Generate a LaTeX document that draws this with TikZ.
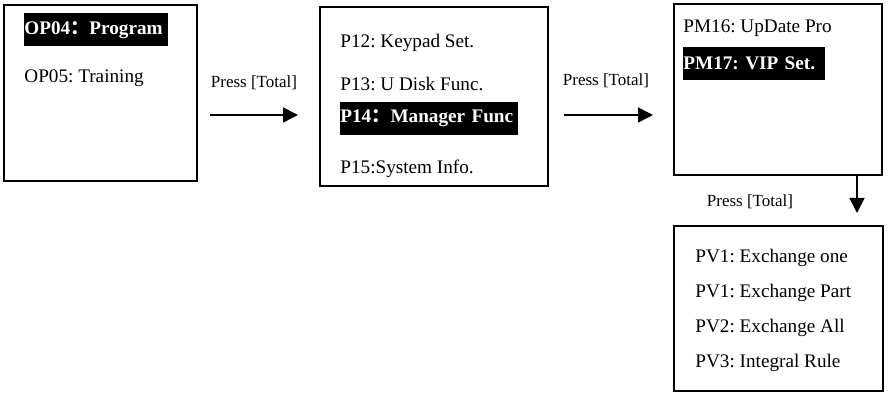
\documentclass[tikz,border=0pt]{standalone}
\usepackage{fontspec}
\setmainfont{Liberation Serif}
\newfontfamily\cjk{Noto Sans CJK SC}
\usetikzlibrary{arrows.meta}
\frenchspacing
\begin{document}
\begin{tikzpicture}[x=0.5pt,y=-0.5pt,
  box/.style={draw, line width=0.9pt, inner sep=0pt},
  item/.style={anchor=west, inner sep=0pt, font=\fontsize{9.6}{11}\selectfont\frenchspacing, text height=1.5ex, text depth=.3ex},
  hl/.style={anchor=west, inner xsep=0pt, inner ysep=0pt, fill=black, text=white, minimum height=16.5pt, align=left, font=\fontsize{9.6}{11}\selectfont\bfseries\frenchspacing},
  lbl/.style={inner sep=0pt, font=\fontsize{8.5}{10}\selectfont},
  arr/.style={line width=0.8pt, -{Triangle[length=7.5pt,width=7.5pt]}}]
\fill[white] (0,0) rectangle (889,394);
\useasboundingbox (0,0) rectangle (889,394);

% boxes
\node[box, minimum width=96.5pt, minimum height=88pt] (b1) at (100.5,93) {};
\node[box, minimum width=114pt, minimum height=89.5pt] (b2) at (434,96.5) {};
\node[box, minimum width=104pt, minimum height=85.5pt] (b3) at (778,89.5) {};
\node[box, minimum width=104.5pt, minimum height=82.5pt] (b4) at (778.5,308.5) {};

% box 1
\node[hl, text width=72pt] (op4) at (24,30) {OP04{\cjk ：}Program};
\node[item] (op5) at (24,77) {OP05: Training};

% box 2
\node[item] (p12) at (340,42) {P12: Keypad Set.};
\node[item] (p13) at (340,85) {P13: U Disk Func.};
\node[hl, text width=89pt] (p14) at (340,118.5) {P14{\cjk ：}Manager Func};
\node[item] (p15) at (340,168) {P15:System Info.};

% box 3
\node[item] (pm16) at (683,27) {PM16: UpDate Pro};
\node[hl, text width=71pt] (pm17) at (683,63.5) {PM17: VIP Set.};

% box 4
\node[item] (pv1) at (695,257) {PV1: Exchange one};
\node[item] (pv1b) at (695,292) {PV1: Exchange Part};
\node[item] (pv2) at (695,327) {PV2: Exchange All};
\node[item] (pv3) at (695,362) {PV3: Integral Rule};

% connectors
\coordinate (a1s) at (210,115);
\coordinate (a1e) at (298,115);
\coordinate (a2s) at (564,115);
\coordinate (a2e) at (653,115);
\coordinate (a3s) at (857,175);
\coordinate (a3e) at (857,213);
\draw[arr] (a1s) -- (a1e);
\draw[arr] (a2s) -- (a2e);
\draw[arr] (a3s) -- (a3e);

\node[lbl] (l1) at (254,83) {Press [Total]};
\node[lbl] (l2) at (606,81) {Press [Total]};
\node[lbl] (l3) at (750,202) {Press [Total]};
\end{tikzpicture}
\end{document}
